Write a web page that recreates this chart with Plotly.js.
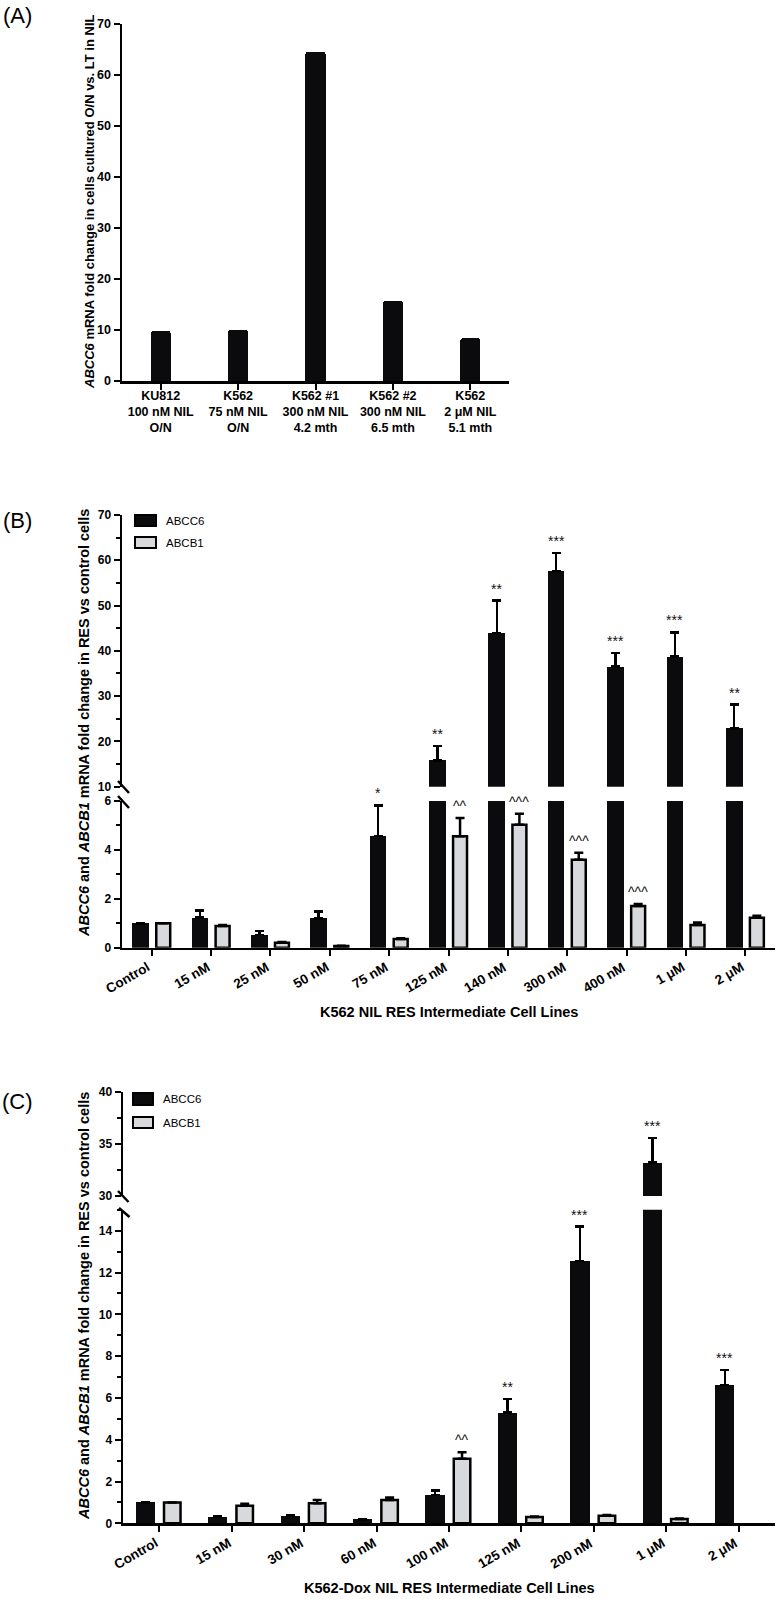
<!DOCTYPE html>
<html><head><meta charset="utf-8">
<script src="https://cdn.plot.ly/plotly-3.0.1.min.js"></script>
<style>html,body{margin:0;padding:0;background:#fff}#chart{width:778px;height:1599px}</style>
</head><body><div id="chart"></div>
<script>
// ---------- Panel A data ----------
const A_categories = ['KU812<br>100 nM NIL<br>O/N', 'K562<br>75 nM NIL<br>O/N', 'K562 #1<br>300 nM NIL<br>4.2 mth', 'K562 #2<br>300 nM NIL<br>6.5 mth', 'K562<br>2 μM NIL<br>5.1 mth'];
const A_values = [9.8, 10.0, 64.6, 15.7, 8.4];
const A_ytitle = '<i>ABCC6</i> mRNA fold change in cells cultured O/N vs. LT in NIL';

// ---------- Panel B data ----------
const B_categories = ['Control', '15 nM', '25 nM', '50 nM', '75 nM', '125 nM', '140 nM', '300 nM', '400 nM', '1 μM', '2 μM'];
const B_abcc6 = [1.0, 1.23, 0.52, 1.2, 4.56, 15.8, 43.9, 57.6, 36.5, 38.7, 22.9];
const B_abcc6_err = [0, 0.29, 0.17, 0.28, 1.26, 3.2, 7.2, 4.0, 3.0, 5.4, 5.2];
const B_abcb1 = [1.0, 0.89, 0.2, 0.07, 0.36, 4.56, 5.03, 3.6, 1.71, 0.93, 1.22];
const B_abcb1_err = [0, 0.04, 0.03, 0.01, 0.03, 0.74, 0.45, 0.28, 0.08, 0.1, 0.09];
const B_abcc6_sig = ['', '', '', '', '*', '**', '**', '***', '***', '***', '**'];
const B_abcb1_sig = ['', '', '', '', '', '^^', '^^^', '^^^', '^^^', '', ''];
const B_xtitle = 'K562 NIL RES Intermediate Cell Lines';

// ---------- Panel C data ----------
const C_categories = ['Control', '15 nM', '30 nM', '60 nM', '100 nM', '125 nM', '200 nM', '1 μM', '2 μM'];
const C_abcc6 = [1.0, 0.32, 0.36, 0.19, 1.35, 5.29, 12.55, 33.2, 6.62];
const C_abcc6_err = [0, 0.04, 0.04, 0.02, 0.21, 0.66, 1.64, 2.35, 0.71];
const C_abcb1 = [1.0, 0.84, 0.96, 1.11, 3.09, 0.3, 0.36, 0.2, null];
const C_abcb1_err = [0, 0.1, 0.15, 0.13, 0.31, 0.03, 0.04, 0.03, null];
const C_abcc6_sig = ['', '', '', '', '', '**', '***', '***', '***'];
const C_abcb1_sig = ['', '', '', '', '^^', '', '', '', ''];
const C_xtitle = 'K562-Dox NIL RES Intermediate Cell Lines';

const BC_ytitle = '<i>ABCC6</i> and <i>ABCB1</i> mRNA fold change in RES vs control cells';
const seriesNames = ['ABCC6', 'ABCB1'];
const panelLabels = ['(A)', '(B)', '(C)'];

// ---------- helpers ----------
const W = 778, H = 1599;
const X = px => px / W, Y = py => 1 - py / H;
const SANS = '"Liberation Sans",Arial,sans-serif';
const BLACK = '#0b0a0c', GREY = '#d8d9dd';

function errBar(errs) {
  return {type: 'data', symmetric: false, array: errs.map(e => e == null ? 0 : e),
          arrayminus: errs.map(() => 0), color: '#000', thickness: 2.5, width: 4.5, visible: true};
}
const axBase = {showline: true, linecolor: '#000', linewidth: 2.5, ticks: 'outside', tickcolor: '#000',
  tickwidth: 2, ticklen: 6, showgrid: false, zeroline: false, fixedrange: true};
const minorY = dt => ({dtick: dt, ticklen: 4, tickwidth: 2, tickcolor: '#000', ticks: 'outside', showgrid: false});

const traces = [];
// Panel A
traces.push({type: 'bar', x: A_categories, y: A_values, xaxis: 'x', yaxis: 'y', width: 0.26,
  marker: {color: BLACK, cornerradius: 3, line: {width: 0}}, showlegend: false, hoverinfo: 'skip'});

// Panel B / C generic builder
const geo = {
  B: {blackW: 0.28, blackOff: -0.327, greyW: 0.235, greyOff: 0.077},
  C: {blackW: 0.265, blackOff: -0.325, greyW: 0.228, greyOff: 0.066}
};
function addPanel(cats, c6, c6e, b1, b1e, xa, yLow, yHigh, g) {
  traces.push({type: 'bar', name: seriesNames[0], x: cats, y: c6, xaxis: xa, yaxis: yLow,
    width: g.blackW, offset: g.blackOff, marker: {color: BLACK, line: {width: 0}},
    error_y: errBar(c6e), showlegend: false, hoverinfo: 'skip'});
  traces.push({type: 'bar', name: seriesNames[1], x: cats, y: b1, xaxis: xa, yaxis: yLow,
    width: g.greyW, offset: g.greyOff, marker: {color: GREY, line: {width: 2.5, color: '#000'}},
    error_y: errBar(b1e), showlegend: false, hoverinfo: 'skip'});
  traces.push({type: 'bar', name: seriesNames[0], x: cats, y: c6, xaxis: xa, yaxis: yHigh,
    width: g.blackW, offset: g.blackOff, marker: {color: BLACK, line: {width: 0}},
    error_y: errBar(c6e), showlegend: false, hoverinfo: 'skip'});
}
addPanel(B_categories, B_abcc6, B_abcc6_err, B_abcb1, B_abcb1_err, 'x2', 'y2', 'y3', geo.B);
addPanel(C_categories, C_abcc6, C_abcc6_err, C_abcb1, C_abcb1_err, 'x3', 'y4', 'y5', geo.C);

const annotations = [];
const shapes = [];
function sigAnn(vals, errs, sigs, xa, yLow, yHigh, lowMax, off, w) {
  sigs.forEach((s, i) => {
    if (!s) return;
    const top = vals[i] + (errs[i] || 0);
    annotations.push({text: s, x: i + off + w / 2, y: top, xref: xa, yref: top > lowMax ? yHigh : yLow,
      xanchor: 'center', yanchor: 'bottom', yshift: 2, showarrow: false,
      font: {family: SANS, size: 14, color: '#111'}});
  });
}
sigAnn(B_abcc6, B_abcc6_err, B_abcc6_sig, 'x2', 'y2', 'y3', 6, geo.B.blackOff, geo.B.blackW);
sigAnn(B_abcb1, B_abcb1_err, B_abcb1_sig, 'x2', 'y2', 'y3', 6, geo.B.greyOff, geo.B.greyW);
sigAnn(C_abcc6, C_abcc6_err, C_abcc6_sig, 'x3', 'y4', 'y5', 15, geo.C.blackOff, geo.C.blackW);
sigAnn(C_abcb1, C_abcb1_err, C_abcb1_sig, 'x3', 'y4', 'y5', 15, geo.C.greyOff, geo.C.greyW);

// rotated category labels for panels B and C (drawn at each category on the axis)
function catLabels(cats, xa, ya) {
  cats.forEach((c, i) => {
    annotations.push({text: c, x: i, y: 0, xref: xa, yref: ya, xanchor: 'right', yanchor: 'top',
      textangle: -30, yshift: -9, xshift: 4, showarrow: false,
      font: {family: SANS, size: 13.5, color: '#000', weight: 'bold'}});
  });
}
catLabels(B_categories, 'x2', 'y2');
catLabels(C_categories, 'x3', 'y4');

// axis titles
function ytitle(text, cx, cy, size) {
  annotations.push({text: text, x: X(cx), y: Y(cy), xref: 'paper', yref: 'paper', textangle: -90,
    xanchor: 'center', yanchor: 'middle', showarrow: false,
    font: {family: SANS, size: size, color: '#000', weight: 'bold'}});
}
function xtitle(text, cx, cy) {
  annotations.push({text: text, x: X(cx), y: Y(cy), xref: 'paper', yref: 'paper',
    xanchor: 'center', yanchor: 'middle', showarrow: false,
    font: {family: SANS, size: 14.5, color: '#000', weight: 'bold'}});
}
ytitle(A_ytitle, 90, 202, 13);
ytitle(BC_ytitle, 84, 723, 14.5);
ytitle(BC_ytitle, 84, 1306, 14.5);
xtitle(B_xtitle, 449, 1012);
xtitle(C_xtitle, 449, 1588);

// panel labels
[[17.5, 16], [17.5, 520], [17.5, 1101]].forEach((p, i) => {
  annotations.push({text: panelLabels[i], x: X(p[0]), y: Y(p[1]), xref: 'paper', yref: 'paper',
    xanchor: 'center', yanchor: 'middle', showarrow: false, font: {family: SANS, size: 22, color: '#000'}});
});

// legends
function legend(x0, x1, rows) {
  rows.forEach((r, i) => {
    shapes.push({type: 'rect', xref: 'paper', yref: 'paper', x0: X(x0), x1: X(x1), y0: Y(r[0]), y1: Y(r[1]),
      fillcolor: i === 0 ? BLACK : GREY, line: {color: '#000', width: 2}});
    annotations.push({text: seriesNames[i], x: X(x1 + 8), y: Y((r[0] + r[1]) / 2), xref: 'paper', yref: 'paper',
      xanchor: 'left', yanchor: 'middle', showarrow: false, font: {family: SANS, size: 11.5, color: '#000'}});
  });
}
legend(135, 156, [[515, 526], [537, 548]]);
legend(133, 153, [[1093, 1105], [1117, 1128]]);

// axis-break slashes
[[118, 781, 129, 793], [118, 796, 129, 808], [118, 1191, 128.5, 1202], [119, 1208, 129.5, 1217]].forEach(s => {
  shapes.push({type: 'line', xref: 'paper', yref: 'paper', x0: X(s[0]), y0: Y(s[1]), x1: X(s[2]), y1: Y(s[3]),
    line: {color: '#000', width: 2.5}});
});

const tickA = {family: SANS, size: 12.5, color: '#000', weight: 'bold'};
const tickY = {family: SANS, size: 12, color: '#000', weight: 'bold'};

const layout = {
  width: W, height: H, margin: {l: 0, r: 0, t: 0, b: 0}, paper_bgcolor: '#fff', plot_bgcolor: 'rgba(0,0,0,0)',
  showlegend: false, bargap: 0,
  xaxis: Object.assign({}, axBase, {domain: [X(122), X(509)], anchor: 'y', type: 'category', range: [-0.5, 4.5], tickangle: 0, tickfont: tickA, ticklabelstandoff: -5}),
  yaxis: Object.assign({}, axBase, {domain: [Y(381), Y(24)], anchor: 'x', range: [0, 70], dtick: 10, tickfont: tickA}),
  xaxis2: Object.assign({}, axBase, {domain: [X(122), X(775)], anchor: 'y2', type: 'category', range: [-0.5, 10.5], showticklabels: false}),
  yaxis2: Object.assign({}, axBase, {domain: [Y(947.7), Y(801)], anchor: 'x2', range: [0, 6], dtick: 2, tickfont: tickY, minor: minorY(1)}),
  yaxis3: Object.assign({}, axBase, {domain: [Y(786.7), Y(515)], anchor: 'x2', range: [10, 70], tick0: 0, dtick: 10, tickfont: tickY, minor: minorY(5)}),
  xaxis3: Object.assign({}, axBase, {domain: [X(123), X(775)], anchor: 'y4', type: 'category', range: [-0.5, 8.5], showticklabels: false}),
  yaxis4: Object.assign({}, axBase, {domain: [Y(1523.3), Y(1209.8)], anchor: 'x3', range: [0, 15], tick0: 0, dtick: 2, tickfont: tickY, minor: minorY(1)}),
  yaxis5: Object.assign({}, axBase, {domain: [Y(1196), Y(1091.7)], anchor: 'x3', range: [30, 40], tick0: 30, dtick: 5, tickfont: tickY, minor: minorY(2.5)}),
  annotations: annotations,
  shapes: shapes
};
Plotly.newPlot('chart', traces, layout, {displayModeBar: false, staticPlot: true});
</script>
</body></html>
